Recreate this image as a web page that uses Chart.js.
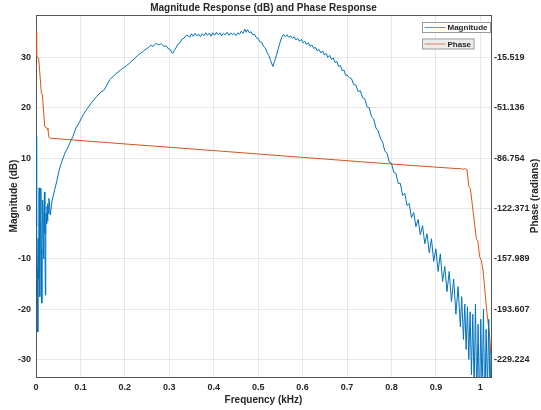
<!DOCTYPE html>
<html>
<head>
    <meta charset="utf-8">
    <title>Magnitude Response (dB) and Phase Response</title>
    <style>
        body {
            margin: 0;
            background-color: #fff;
        }
        #wrap {
            width: 541px;
            height: 410px;
        }
    </style>
</head>
<body>
    <div id="wrap"><canvas id="resp-chart" width="541" height="410"></canvas></div>

    <script src="https://cdn.jsdelivr.net/npm/chart.js"></script>
    <script>
        // Titles
        const chartTitle = "Magnitude Response (dB) and Phase Response";
        const xTitle = "Frequency (kHz)";
        const leftTitle = "Magnitude (dB)";
        const rightTitle = "Phase (radians)";

        // Axis ranges and ticks
        const xRange = [0, 1.024];
        const xTicks = [0, 0.1, 0.2, 0.3, 0.4, 0.5, 0.6, 0.7, 0.8, 0.9, 1];
        const magRange = [-33.46, 38.43];
        const magTicks = [-30, -20, -10, 0, 10, 20, 30];
        const phaseTicks = [-229.224, -193.607, -157.989, -122.371, -86.754, -51.136, -15.519];

        // Magnitude (dB), row by row
        const magFreq = [
            0, 0.001, 0.002, 0.003, 0.004, 0.005, 0.006, 0.007, 0.008, 0.009,
            0.010, 0.011, 0.012, 0.013, 0.014, 0.015, 0.016, 0.017, 0.018, 0.019,
            0.020, 0.021, 0.022, 0.023, 0.024, 0.025, 0.026, 0.027, 0.028, 0.029,
            0.030, 0.032,
            0.036, 0.042, 0.047, 0.052, 0.057, 0.065, 0.070, 0.076, 0.083, 0.090,
            0.098, 0.106, 0.115, 0.125, 0.136, 0.147, 0.152, 0.158, 0.166, 0.178,
            0.190, 0.200, 0.211, 0.222, 0.230, 0.240, 0.248,
            0.252, 0.258, 0.264, 0.270, 0.276, 0.282, 0.288, 0.293, 0.298, 0.302,
            0.306, 0.308, 0.311, 0.315, 0.319, 0.324, 0.328, 0.333, 0.337,
            0.342, 0.346, 0.350, 0.354, 0.358, 0.362, 0.366, 0.370, 0.374, 0.378,
            0.382, 0.386, 0.390, 0.394, 0.398, 0.402, 0.406, 0.410, 0.414, 0.418,
            0.422, 0.426, 0.430, 0.434, 0.438, 0.442, 0.446, 0.450, 0.454, 0.458,
            0.462, 0.466, 0.470, 0.473, 0.476, 0.480, 0.484, 0.488, 0.492, 0.496,
            0.500, 0.504, 0.508, 0.512, 0.516, 0.520, 0.524, 0.528, 0.533, 0.537,
            0.541, 0.545, 0.549, 0.553, 0.557, 0.561, 0.565, 0.569, 0.573, 0.577,
            0.581, 0.585, 0.589, 0.593, 0.597, 0.601, 0.605, 0.609, 0.613, 0.617,
            0.621, 0.625, 0.629, 0.633, 0.637, 0.641, 0.645, 0.649, 0.653, 0.657,
            0.661, 0.665, 0.669, 0.673, 0.677, 0.681, 0.685, 0.689, 0.693, 0.697,
            0.700,
            0.705, 0.710, 0.715, 0.720, 0.725, 0.730, 0.735, 0.740, 0.745, 0.750,
            0.755, 0.760, 0.765, 0.770, 0.775, 0.780, 0.785, 0.790, 0.795, 0.800,
            0.805, 0.810, 0.815, 0.820, 0.825, 0.830, 0.835, 0.840, 0.845, 0.850,
            0.855, 0.860, 0.865, 0.870, 0.875, 0.880, 0.885, 0.890, 0.895, 0.900,
            0.905, 0.910, 0.915, 0.920, 0.925, 0.930, 0.935, 0.940, 0.945, 0.950,
            0.955, 0.958, 0.962, 0.965, 0.968, 0.971, 0.974, 0.977, 0.980, 0.983,
            0.986, 0.989, 0.992, 0.995, 0.998, 1.001, 1.004, 1.007, 1.010, 1.013,
            1.016, 1.019, 1.022, 1.024
        ];
        const magDb = [
            14.3, 2.0, -3.6, -12.0, -24.5, -6.0, -14.0, 4.1, -3.0, -17.5,
            -1.0, 4.0, -8.0, -18.8, -3.0, 1.7, -6.0, -10.0, -2.0, 3.3,
            -5.0, -17.2, -6.0, -1.0, -3.0, 0.5, -2.5, 1.0, -1.0, 2.0,
            1.5, -1.3,
            1.5, 3.7, 5.5, 7.6, 9.0, 11.0, 11.8, 13.0, 14.3, 16.0,
            17.2, 18.6, 19.8, 21.0, 22.2, 23.2, 23.4, 24.3, 25.6, 26.6,
            27.5, 28.1, 28.9, 29.8, 30.5, 31.1, 31.7,
            31.9, 32.4, 32.2, 32.8, 32.5, 32.7, 32.2, 32.3, 31.7, 31.6,
            30.9, 30.8, 31.4, 31.9, 32.6, 32.9, 33.6, 33.8, 34.3,
            34.4, 34.0, 34.7, 34.2, 34.8, 34.3, 34.6, 34.1, 34.7, 34.3,
            34.9, 34.4, 34.8, 34.2, 34.9, 34.4, 35.0, 34.5, 34.9, 34.3,
            34.8, 34.5, 35.0, 34.4, 34.9, 34.5, 34.8, 34.3, 34.9, 34.6,
            35.2, 34.8, 35.6, 35.0, 35.5, 34.9, 35.1, 34.5, 34.6, 33.9,
            33.8, 33.1, 33.0, 32.2, 31.9, 31.0, 30.4, 29.4, 28.2, 29.2,
            30.4, 31.7, 32.9, 34.0, 34.6, 34.1, 34.5, 34.0, 34.3, 33.8,
            34.1, 33.5, 33.8, 33.2, 33.6, 32.9, 33.2, 32.6, 32.9, 32.2,
            32.5, 31.8, 32.0, 31.3, 31.6, 30.9, 31.3, 30.5, 30.8, 30.0,
            30.4, 29.6, 29.9, 29.0, 29.2, 28.2, 28.4, 27.4, 27.5, 26.4,
            26.5,
            26.0, 25.8, 24.6, 24.5, 23.2, 23.4, 22.0, 21.8, 20.2, 20.0,
            18.2, 17.8, 16.0, 15.4, 14.0, 13.2, 11.4, 11.0, 9.2, 9.0,
            7.2, 7.0, 5.0, 5.0, 2.6, 3.0, 0.6, 1.0, -1.8, -0.8,
            -3.6, -2.2, -5.2, -3.4, -7.0, -5.0, -8.8, -6.0, -10.5, -8.0,
            -12.5, -9.0, -14.5, -11.5, -16.5, -12.5, -18.5, -14.0, -21.0, -15.5,
            -23.5, -17.5, -26.0, -19.0, -28.0, -19.5, -30.0, -20.5, -33.0, -21.0,
            -36.0, -19.0, -38.0, -23.0, -40.0, -22.0, -37.0, -20.0, -40.0, -24.0,
            -36.0, -22.0, -39.0, -28.0
        ];

        // Phase
        const phaseFreq = [
            0, 0.001, 0.002, 0.006, 0.012, 0.0144, 0.0196, 0.0248, 0.027, 0.029,
            0.031, 0.2, 0.4, 0.6, 0.8, 0.95, 0.955, 0.96, 0.965, 0.97,
            0.974, 0.9775, 0.984, 0.991, 0.9946, 0.9984, 1.002, 1.006, 1.0135, 1.021,
            1.024
        ];
        const phaseVal = [
            2.9, -10.1, -14.8, -15.9, -40.7, -41.9, -64.4, -65.5, -66.7, -71.9,
            -72.6, -76.7, -81.4, -86.2, -90.9, -94.2, -94.0, -94.6, -94.2, -94.8,
            -106.9, -108.1, -125.0, -143.5, -145.9, -156.5, -158.9, -165.9, -191.9, -213.2,
            -226.0
        ];

        // Left and right axes share tick positions
        const phaseStep = (phaseTicks[6] - phaseTicks[0]) / 6;
        const toPhase = (db) => phaseTicks[3] + db * phaseStep / 10;

        const textColor = "#262626";
        const axisColor = "#555";
        const gridColor = "#e8e8e8";
        const fontFamily = '"Liberation Sans", Arial, sans-serif';
        const tickFont = { family: fontFamily, size: 9, weight: "bold" };

        const toXY = (xs, ys) => xs.map((x, i) => ({ x: x, y: ys[i] }));

        // Box, titles and the two-box legend
        const framePlugin = {
            id: "frame",
            afterDraw(chart) {
                const { ctx, chartArea: a } = chart;
                ctx.save();
                ctx.strokeStyle = axisColor;
                ctx.lineWidth = 1;
                ctx.beginPath();
                ctx.moveTo(a.left, a.top + 0.5);
                ctx.lineTo(a.right, a.top + 0.5);
                ctx.stroke();

                ctx.fillStyle = textColor;
                ctx.textAlign = "center";
                ctx.textBaseline = "middle";
                ctx.font = "bold 10px " + fontFamily;
                const midX = (a.left + a.right) / 2;
                const midY = (a.top + a.bottom) / 2;
                ctx.fillText(chartTitle, midX, 8);
                ctx.fillText(xTitle, midX, 400);

                ctx.save();
                ctx.translate(14, midY);
                ctx.rotate(-Math.PI / 2);
                ctx.fillText(leftTitle, 0, 0);
                ctx.restore();

                ctx.save();
                ctx.translate(535, midY);
                ctx.rotate(-Math.PI / 2);
                ctx.fillText(rightTitle, 0, 0);
                ctx.restore();

                // legend
                ctx.font = "bold 8px " + fontFamily;
                ctx.textAlign = "left";
                const fills = ["#ffffff", "#ececec"];
                chart.data.datasets.forEach((ds, i) => {
                    const bx = 422.5;
                    const by = 22.5 + i * 16.5;
                    const tw = ctx.measureText(ds.label).width;
                    const bw = 25 + tw + 3;
                    ctx.fillStyle = fills[i];
                    ctx.fillRect(bx, by, bw, 10);
                    ctx.strokeStyle = "#9a9a9a";
                    ctx.strokeRect(bx, by, bw, 10);
                    ctx.globalAlpha = 0.7;
                    ctx.strokeStyle = ds.borderColor;
                    ctx.beginPath();
                    ctx.moveTo(bx + 2, by + 5);
                    ctx.lineTo(bx + 23, by + 5);
                    ctx.stroke();
                    ctx.globalAlpha = 1;
                    ctx.fillStyle = textColor;
                    ctx.fillText(ds.label, bx + 25, by + 5.5);
                });
                ctx.restore();
            }
        };

        const ctx = document.getElementById("resp-chart").getContext("2d");
        new Chart(ctx, {
            type: "line",
            data: {
                datasets: [
                    {
                        label: "Magnitude",
                        data: toXY(magFreq, magDb),
                        borderColor: "#0072BD",
                        borderWidth: 1,
                        pointRadius: 0,
                        yAxisID: "yMag",
                    },
                    {
                        label: "Phase",
                        data: toXY(phaseFreq, phaseVal),
                        borderColor: "#D95319",
                        borderWidth: 1,
                        pointRadius: 0,
                        yAxisID: "yPhase",
                    },
                ],
            },
            options: {
                responsive: false,
                animation: false,
                layout: { padding: { top: 15, left: 0, right: 0, bottom: 0 } },
                plugins: {
                    legend: { display: false },
                    title: { display: false },
                    tooltip: { enabled: false },
                },
                scales: {
                    x: {
                        type: "linear",
                        min: xRange[0],
                        max: xRange[1],
                        afterBuildTicks: (s) => { s.ticks = xTicks.map((v) => ({ value: v })); },
                        afterFit: (s) => { s.height = 33; },
                        ticks: {
                            autoSkip: false,
                            maxRotation: 0,
                            padding: 5,
                            color: textColor,
                            font: tickFont,
                            callback: (v) => String(v),
                        },
                        grid: { color: gridColor, drawTicks: false },
                        border: { color: axisColor },
                    },
                    yMag: {
                        type: "linear",
                        position: "left",
                        min: magRange[0],
                        max: magRange[1],
                        afterBuildTicks: (s) => { s.ticks = magTicks.map((v) => ({ value: v })); },
                        afterFit: (s) => { s.width = 36; },
                        ticks: {
                            padding: 5,
                            color: textColor,
                            font: tickFont,
                            callback: (v) => String(v),
                        },
                        grid: { color: gridColor, drawTicks: false },
                        border: { color: axisColor },
                    },
                    yPhase: {
                        type: "linear",
                        position: "right",
                        min: toPhase(magRange[0]),
                        max: toPhase(magRange[1]),
                        afterBuildTicks: (s) => { s.ticks = phaseTicks.map((v) => ({ value: v })); },
                        afterFit: (s) => { s.width = 50; },
                        ticks: {
                            padding: 3,
                            color: textColor,
                            font: tickFont,
                            callback: (v) => v.toFixed(3),
                        },
                        grid: { drawOnChartArea: false, drawTicks: false },
                        border: { color: axisColor },
                    },
                },
            },
            plugins: [framePlugin],
        });
    </script>
</body>
</html>
